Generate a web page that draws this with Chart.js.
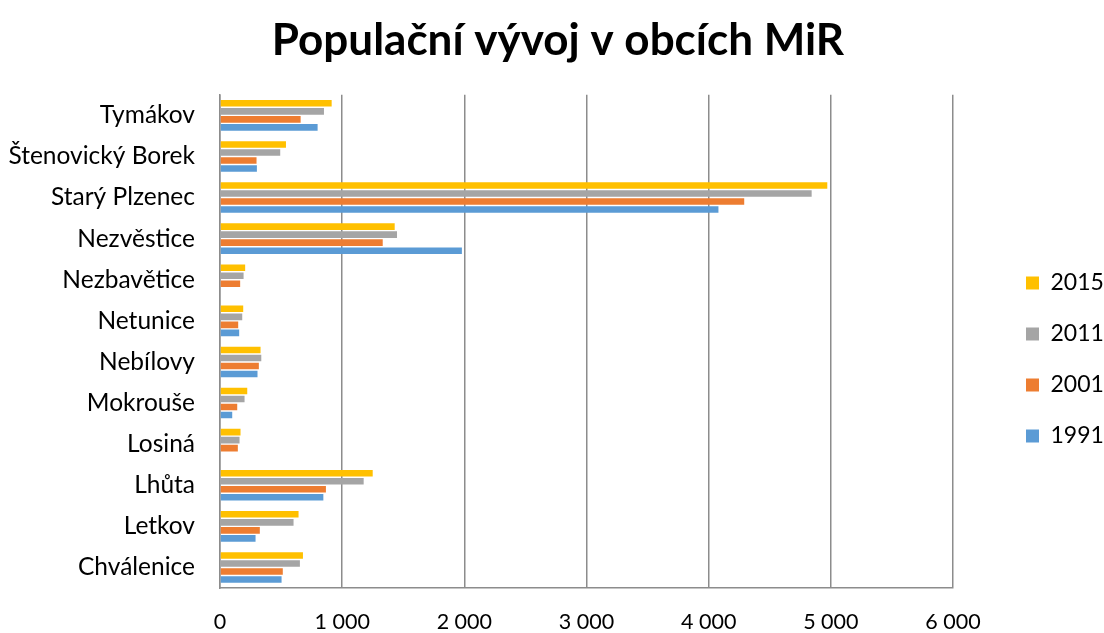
<!DOCTYPE html>
<html>
<head>
<meta charset="utf-8">
<script src="https://cdn.jsdelivr.net/npm/chart.js@4"></script>
<style>
  html, body { margin: 0; padding: 0; background: #fff; }
  #wrap { width: 1104px; height: 633px; }
</style>
</head>
<body>
<div id="wrap"><canvas id="popChart" width="1104" height="633"></canvas></div>
<script>
const obce = ['Tymákov', 'Štenovický Borek', 'Starý Plzenec', 'Nezvěstice', 'Nezbavětice',
  'Netunice', 'Nebílovy', 'Mokrouše', 'Losiná', 'Lhůta', 'Letkov', 'Chválenice'];

const rok2015 = [914, 540, 4971, 1430, 206, 190, 332, 223, 168, 1250, 643, 679];
const rok2011 = [851, 493, 4843, 1449, 193, 182, 338, 201, 160, 1176, 602, 654];
const rok2001 = [660, 299, 4291, 1332, 165, 149, 318, 141, 146, 867, 326, 514];
const rok1991 = [799, 302, 4080, 1980, 0, 157, 307, 100, 0, 846, 291, 504];

const xTicks = [0, 1000, 2000, 3000, 4000, 5000, 6000];

const FONT = 'Lato, "Open Sans", sans-serif';
const GRID = '#8c8c8c';

// mezery jako oddělovač tisíců
function formatCislo(v) {
  return String(v).replace(/\B(?=(\d{3})+(?!\d))/g, ' ');
}

function createDataset(label, color, data) {
  return {
    label,
    data,
    backgroundColor: color,
    borderWidth: 0,
    barPercentage: 0.82,
    categoryPercentage: 0.78
  };
}

// legenda: pevná šířka a posun jako v Excelu, titulek trochu doprava
const layoutFix = {
  id: 'layoutFix',
  beforeLayout(chart) {
    const lg = chart.legend;
    if (lg && !lg._fixed) {
      const fit = lg.fit;
      lg.fit = function () { fit.call(this); this.width = 147; };
      lg._fixed = true;
    }
  },
  afterLayout(chart) {
    const lg = chart.legend;
    lg.left += 45;
    lg.right += 45;
    lg.top += 43;
    lg.bottom += 43;
    const t = chart.titleBlock;
    if (t) {
      t.left += 16;
    }
  }
};

const ctx = document.getElementById('popChart').getContext('2d');

new Chart(ctx, {
  type: 'bar',
  data: {
    labels: obce,
    datasets: [
      createDataset('2015', '#FFC000', rok2015),
      createDataset('2011', '#A5A5A5', rok2011),
      createDataset('2001', '#ED7D31', rok2001),
      createDataset('1991', '#5B9BD5', rok1991)
    ]
  },
  plugins: [layoutFix],
  options: {
    indexAxis: 'y',
    responsive: false,
    animation: false,
    layout: { padding: { left: 0, right: 4, top: 0, bottom: 0 } },
    scales: {
      x: {
        min: 0,
        max: 6000,
        afterBuildTicks: (s) => { s.ticks = xTicks.map(v => ({ value: v })); },
        afterFit: (s) => { s.height = 45; },
        grid: { color: GRID, lineWidth: 1.5, drawTicks: false },
        border: { display: true, color: GRID, width: 1.5 },
        ticks: {
          padding: 21,
          color: '#000',
          font: { family: FONT, size: 21.5 },
          callback: (v) => formatCislo(v)
        }
      },
      y: {
        afterFit: (s) => { s.width = 220; },
        grid: { display: false, drawTicks: false },
        border: { display: true, color: GRID, width: 1.5 },
        ticks: {
          padding: 25,
          color: '#000',
          font: { family: FONT, size: 24.5 }
        }
      }
    },
    plugins: {
      title: {
        display: true,
        text: 'Populační vývoj v obcích MiR',
        color: '#000',
        font: { family: FONT, size: 44, weight: 'bold' },
        padding: { top: 14, bottom: 28 }
      },
      legend: {
        position: 'right',
        labels: {
          color: '#000',
          font: { family: FONT, size: 23 },
          boxWidth: 13,
          boxHeight: 13,
          padding: 28
        }
      },
      tooltip: { enabled: false }
    }
  }
});
</script>
</body>
</html>
